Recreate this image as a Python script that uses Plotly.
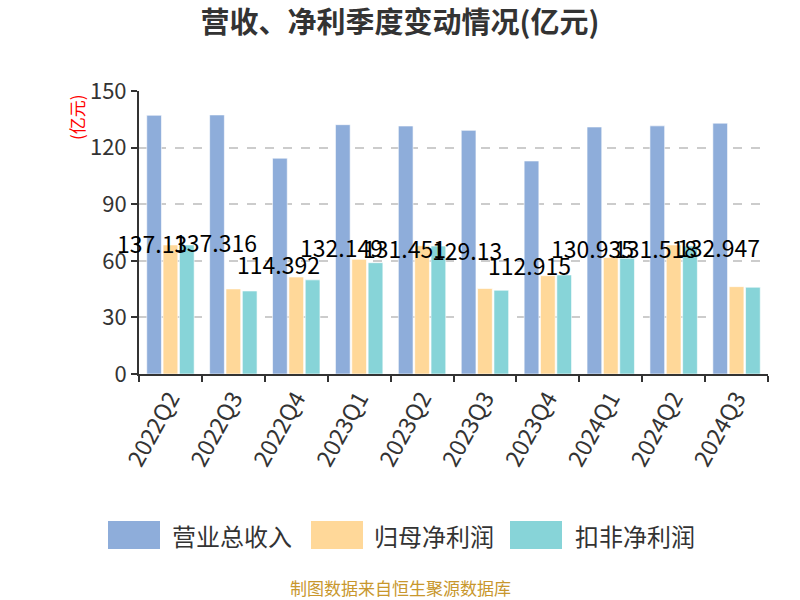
import plotly.graph_objects as go

categories = ["2022Q2", "2022Q3", "2022Q4", "2023Q1", "2023Q2", "2023Q3", "2023Q4", "2024Q1", "2024Q2", "2024Q3"]
revenue = [137.13, 137.316, 114.392, 132.149, 131.451, 129.13, 112.915, 130.935, 131.518, 132.947]
net_profit = [68.4, 45.1, 51.4, 60.8, 68.0, 45.3, 52.1, 61.7, 68.4, 46.3]
net_profit_ex = [68.4, 44.0, 49.9, 59.0, 67.8, 44.4, 52.5, 61.3, 67.8, 46.0]
series_names = ["营业总收入", "归母净利润", "扣非净利润"]
colors = ["#8EADDA", "#FFD899", "#87D4D8"]
y_ticks = [0, 30, 60, 90, 120, 150]

FONT = "Noto Sans CJK SC"
L, R, T, B = 139, 32, 91, 226
PW, PH = 800 - L - R, 600 - T - B

def px_to_paper(xp, yp):
    return (xp - L) / PW, (600 - B - yp) / PH

fig = go.Figure()
for name, vals, col in zip(series_names, [revenue, net_profit, net_profit_ex], colors):
    fig.add_trace(go.Bar(
        x=categories, y=vals, name=name,
        marker=dict(color=col, line=dict(color="rgba(255,255,255,0.6)", width=1)),
        showlegend=False,
    ))

# value labels in middle of first series bar
for c, v in zip(categories, revenue):
    fig.add_annotation(x=c, y=v / 2, text=f"{v:g}", showarrow=False, xref="x", yref="y",
                       xshift=-18, yshift=2, font=dict(family=FONT, size=23, color="#000"))

fig.update_layout(
    width=800, height=600,
    margin=dict(l=L, r=R, t=T, b=B),
    paper_bgcolor="white", plot_bgcolor="white",
    barmode="group", bargap=0.22, bargroupgap=0.1,
    font=dict(family=FONT, color="#333"),
    title=dict(text="<b>营收、净利季度变动情况(亿元)</b>", x=0.5, xanchor="center", y=0.962, yanchor="middle",
               font=dict(family=FONT, size=29, color="#333")),
    xaxis=dict(range=[-0.5, 9.5], tickangle=-61, tickfont=dict(size=23, color="#333"), showline=True,
               linecolor="#333", linewidth=2, ticks="outside", ticklen=6, tickwidth=2, tickcolor="#333",
               tickson="boundaries", showgrid=False),
    yaxis=dict(range=[0, 150], tickvals=y_ticks, tickfont=dict(size=22, color="#333"), showline=True,
               linecolor="#333", linewidth=2, ticks="outside", ticklen=6, tickwidth=2, tickcolor="#333",
               showgrid=True, gridcolor="#ccc", griddash="dash", gridwidth=1.5, zeroline=False),
)

ax, ay = px_to_paper(76, 92)
fig.add_annotation(text="(亿元)", xref="paper", yref="paper", x=ax, y=ay, xanchor="center", yanchor="top",
                   textangle=-90, showarrow=False, font=dict(family=FONT, size=17, color="red"))

# custom legend
leg_items = [(108, 170), (311, 372), (510, 573)]
for (bx, tx), name, col in zip(leg_items, series_names, colors):
    w, h, yc = 52, 28, 535
    x0, y0 = px_to_paper(bx, yc + h / 2)
    x1, y1 = px_to_paper(bx + w, yc - h / 2)
    fig.add_shape(type="rect", xref="paper", yref="paper", x0=x0, x1=x1, y0=y0, y1=y1,
                  fillcolor=col, line=dict(width=0))
    tx_, ty_ = px_to_paper(tx, yc)
    fig.add_annotation(text=name, xref="paper", yref="paper", x=tx_, y=ty_,
                       xanchor="left", yanchor="middle", showarrow=False,
                       font=dict(family=FONT, size=24, color="#333"))

sx, sy = px_to_paper(400, 587)
fig.add_annotation(text="制图数据来自恒生聚源数据库", xref="paper", yref="paper", x=sx, y=sy,
                   xanchor="center", yanchor="middle", showarrow=False,
                   font=dict(family=FONT, size=17, color="#C8972D"))

fig.write_html("out.html")
